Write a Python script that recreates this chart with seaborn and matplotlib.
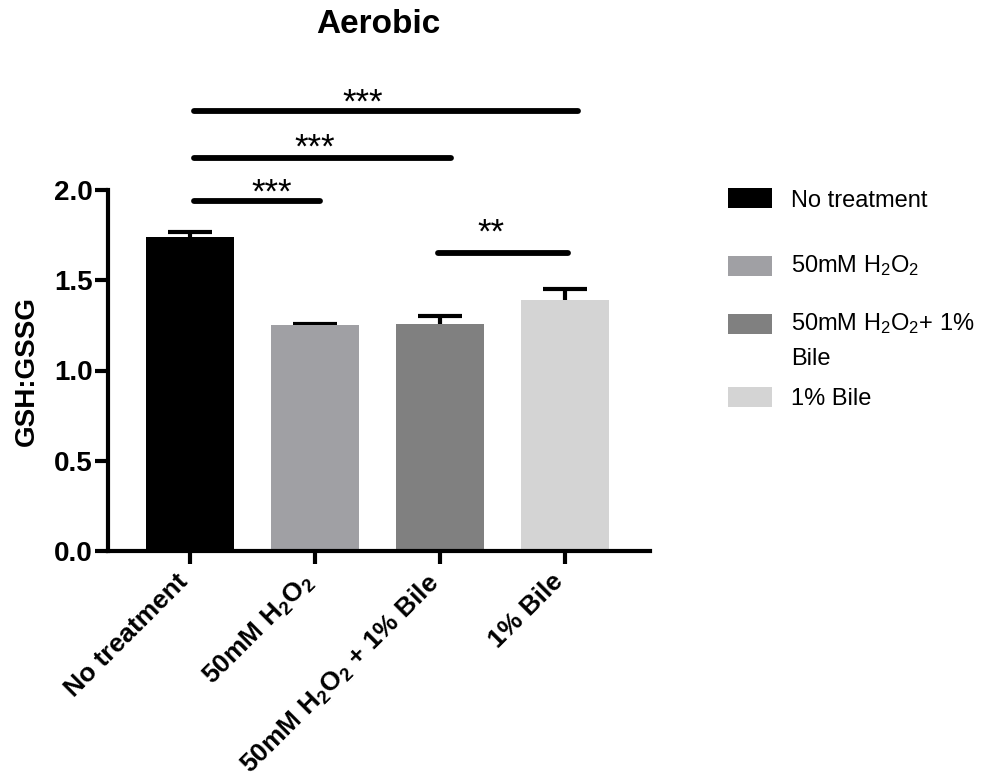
import numpy as np
import pandas as pd
import seaborn as sns
import matplotlib.pyplot as plt
from matplotlib.patches import Rectangle
from matplotlib.transforms import ScaledTranslation

# data
groups = ["No treatment", "50mM H2O2", "50mM H2O2 + 1% Bile", "1% Bile"]
tick_labels = [
    "No treatment",
    r"50mM H$_2$O$_2$",
    r"50mM H$_2$O$_2$ + 1% Bile",
    "1% Bile",
]
ratio = [1.74, 1.25, 1.26, 1.39]
sem = [0.03, 0.01, 0.045, 0.06]
colors = ["#000000", "#a0a0a4", "#808080", "#d4d4d4"]

# significance brackets (x in category units, y in GSH:GSSG units)
sig_from = [0.03, 0.03, 0.03, 1.98]
sig_to = [1.04, 2.09, 3.10, 3.02]
sig_y = [1.94, 2.18, 2.44, 1.65]
star_x = [0.65, 1.0, 1.38, 2.41]
star_y = [1.93, 2.18, 2.43, 1.71]
sig_text = ["***", "***", "***", "**"]

sns.set_style("ticks", {"axes.edgecolor": "black", "text.color": "black",
                        "xtick.color": "black", "ytick.color": "black",
                        "axes.labelcolor": "black"})
plt.rcParams["font.family"] = ["Liberation Sans", "DejaVu Sans"]
plt.rcParams["mathtext.default"] = "regular"

df = pd.DataFrame({"group": groups, "ratio": ratio})

fig = plt.figure(figsize=(9.82, 7.8), dpi=100)
ax = fig.add_axes([0.110, 0.294, 0.552, 0.462])

sns.barplot(data=df, x="group", y="ratio", hue="group", palette=colors,
            order=groups, hue_order=groups, width=0.7, errorbar=None,
            legend=False, ax=ax, saturation=1, linewidth=0)

# error bars sit behind the bars, so only the upper half shows
ax.errorbar(np.arange(len(groups)), ratio, yerr=sem, fmt="none",
            ecolor="black", elinewidth=3, capsize=16, capthick=3, zorder=0.9)

sns.despine(ax=ax)
for side in ["left", "bottom"]:
    ax.spines[side].set_linewidth(3)
ax.tick_params(axis="both", width=3, length=9.5)
ax.tick_params(axis="y", pad=1.5)
ax.tick_params(axis="x", pad=4)

ax.set_ylim(0, 2.0)
ax.set_xlim(-0.656, 3.68)
ax.set_yticks([0, 0.5, 1.0, 1.5, 2.0])
ax.set_yticklabels(["0.0", "0.5", "1.0", "1.5", "2.0"], fontsize=20,
                   fontweight="bold")
ax.set_xticks(range(len(groups)))
ax.set_xticklabels(tick_labels, rotation=45, ha="right", va="top",
                   rotation_mode="anchor", fontsize=19, fontweight="bold")
# nudge the slanted labels left, as in the GraphPad original
shift = ScaledTranslation(-0.14, 0.0, fig.dpi_scale_trans)
for lab in ax.get_xticklabels():
    lab.set_transform(lab.get_transform() + shift)
ax.set_xlabel("")
ax.set_ylabel("GSH:GSSG", fontsize=20, fontweight="bold", labelpad=10)

for a, b, y in zip(sig_from, sig_to, sig_y):
    ax.plot([a, b], [y, y], color="black", lw=4.2, solid_capstyle="round",
            clip_on=False)
for x, y, t in zip(star_x, star_y, sig_text):
    ax.text(x, y, t, ha="center", va="baseline", fontsize=25, clip_on=False)

fig.text(0.385, 0.969, "Aerobic", ha="center", va="center", fontsize=24,
         fontweight="bold")

# legend drawn by hand: GraphPad spaces the multi-line entry unevenly
W, H = 982, 780
swatch_y = [198, 266, 324, 397]
for c, y in zip(colors, swatch_y):
    fig.patches.append(Rectangle((728 / W, 1 - (y + 10) / H), 44 / W, 20 / H,
                                 facecolor=c, edgecolor="none",
                                 transform=fig.transFigure))
legend_lines = ["No treatment", r"50mM H$_2$O$_2$", r"50mM H$_2$O$_2$+ 1%",
                "Bile", "1% Bile"]
legend_base = [207, 272, 330, 365, 405]
for t, y in zip(legend_lines, legend_base):
    fig.text(791 / W, 1 - y / H, t, ha="left", va="baseline", fontsize=17)

fig.savefig("out.png", dpi=100)
